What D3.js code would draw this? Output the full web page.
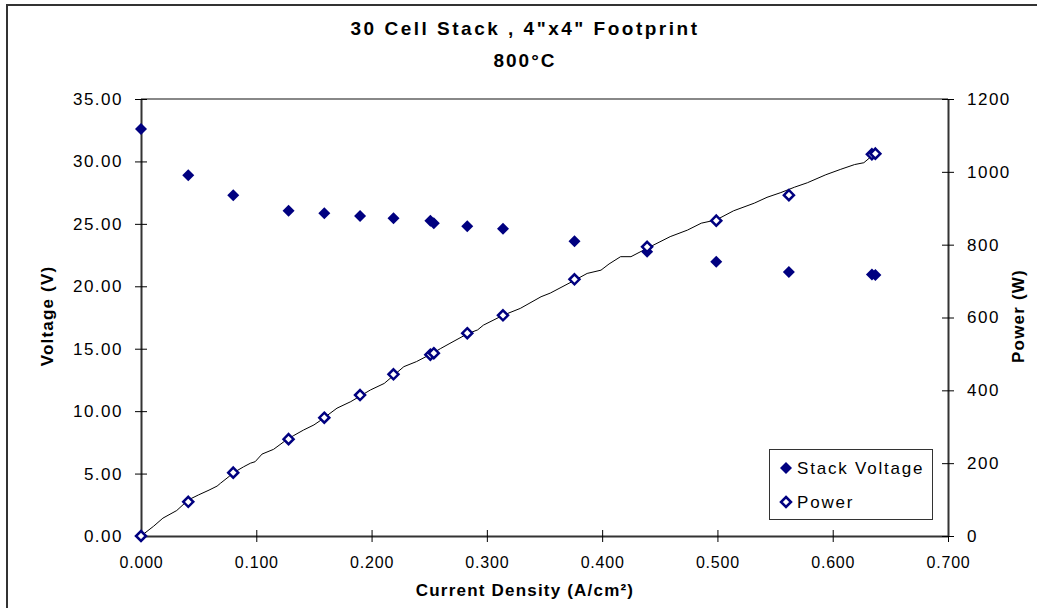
<!DOCTYPE html>
<html>
<head>
<meta charset="utf-8">
<script src="https://cdn.jsdelivr.net/npm/d3@7"></script>
<style>
  body { margin: 0; background: #fff; }
  svg text { font-family: "Liberation Sans", Arial, sans-serif; fill: #000; }
</style>
</head>
<body>
<div id="chart"></div>
<script>
// measured points (markers)
const currentDensity = [0, 0.041, 0.080, 0.128, 0.159, 0.190, 0.219, 0.251, 0.254, 0.283, 0.314, 0.376, 0.439, 0.499, 0.562, 0.634, 0.637];
const stackVoltage = [32.6, 28.9, 27.3, 26.05, 25.85, 25.63, 25.44, 25.25, 25.05, 24.8, 24.6, 23.6, 22.77, 21.97, 21.14, 20.95, 20.9];
const power = [0, 94, 174, 266, 325, 387, 444, 498, 502, 557, 606, 705, 794, 866, 936, 1048, 1050];

// continuous power trace (thin black line)
const traceCurrent = [0, 0.011, 0.019, 0.031, 0.041, 0.050, 0.059, 0.066, 0.069, 0.077, 0.082, 0.089, 0.095, 0.099, 0.105, 0.115, 0.124, 0.132, 0.141, 0.150, 0.156, 0.170, 0.182, 0.199, 0.211, 0.228, 0.239, 0.253, 0.260, 0.268, 0.283, 0.292, 0.297, 0.314, 0.329, 0.347, 0.355, 0.376, 0.387, 0.399, 0.406, 0.416, 0.425, 0.439, 0.459, 0.474, 0.486, 0.499, 0.514, 0.532, 0.543, 0.555, 0.567, 0.578, 0.594, 0.607, 0.619, 0.627, 0.636];
const tracePower = [0, 27, 49, 70, 99, 113, 126, 137, 145, 165, 177, 190, 200, 204, 225, 238, 259, 275, 291, 305, 318, 351, 369, 401, 419, 465, 479, 502, 515, 529, 555, 566, 579, 606, 625, 657, 667, 702, 721, 730, 747, 767, 767, 790, 822, 840, 859, 868, 893, 914, 930, 943, 958, 970, 992, 1007, 1020, 1025, 1049];

const xTicks = [0, 0.1, 0.2, 0.3, 0.4, 0.5, 0.6, 0.7];
const voltTicks = [0, 5, 10, 15, 20, 25, 30, 35];
const powerTicks = [0, 200, 400, 600, 800, 1000, 1200];

const width = 1037, height = 608;
const navy = "#000080";

const svg = d3.select("#chart").append("svg")
  .attr("width", width).attr("height", height);

// outer chart border
svg.append("rect")
  .attr("x", 7).attr("y", 5).attr("width", 1050).attr("height", 620)
  .attr("fill", "none").attr("stroke", "#333").attr("stroke-width", 2);

const x = d3.scaleLinear().domain([0, 0.7]).range([141, 948]);
const yV = d3.scaleLinear().domain([0, 35]).range([536, 99]);
const yP = d3.scaleLinear().domain([0, 1200]).range([536, 99]);

// plot area top border
svg.append("line")
  .attr("x1", x(0)).attr("x2", x(0.7)).attr("y1", yV(35)).attr("y2", yV(35))
  .attr("stroke", "#888").attr("stroke-width", 2);

// axes
const xAxis = svg.append("g").attr("transform", `translate(0,${yV(0)})`)
  .call(d3.axisBottom(x).tickValues(xTicks).tickFormat(d3.format(".3f")).tickSizeInner(6).tickSizeOuter(0).tickPadding(15));
const yAxisL = svg.append("g").attr("transform", `translate(${x(0)},0)`)
  .call(d3.axisLeft(yV).tickValues(voltTicks).tickFormat(d3.format(".2f")).tickSizeInner(6).tickSizeOuter(0).tickPadding(12));
const yAxisR = svg.append("g").attr("transform", `translate(${x(0.7)},0)`)
  .call(d3.axisRight(yP).tickValues(powerTicks).tickFormat(d3.format("d")).tickSizeInner(6).tickSizeOuter(0).tickPadding(13));

[xAxis, yAxisL, yAxisR].forEach(g => {
  g.select(".domain").attr("stroke", "#333").attr("stroke-width", 2);
  g.selectAll(".tick line").attr("stroke", "#000").attr("stroke-width", 1);
  g.selectAll(".tick text").attr("font-size", "17px").attr("letter-spacing", "1.5px")
    .attr("font-family", "Liberation Sans, Arial, sans-serif").attr("fill", "#000");
});
xAxis.selectAll(".tick text").attr("font-size", "16px").attr("letter-spacing", "0.8px");
// ticks cross the axis lines
xAxis.selectAll(".tick line").attr("y1", -6);
yAxisL.selectAll(".tick line").attr("x1", 6);
yAxisR.selectAll(".tick line").attr("x1", -6);

// power trace line
const line = d3.line().x(d => x(d[0])).y(d => yP(d[1]));
svg.append("path")
  .datum(d3.zip(traceCurrent, tracePower))
  .attr("d", line)
  .attr("fill", "none").attr("stroke", "#000").attr("stroke-width", 1);

const diamond = s => `M0,${-s}L${s},0L0,${s}L${-s},0Z`;

// voltage markers (filled)
svg.append("g").selectAll("path")
  .data(d3.zip(currentDensity, stackVoltage))
  .join("path")
  .attr("transform", d => `translate(${x(d[0])},${yV(d[1])})`)
  .attr("d", diamond(6))
  .attr("fill", navy);

// power markers (open)
svg.append("g").selectAll("path")
  .data(d3.zip(currentDensity, power))
  .join("path")
  .attr("transform", d => `translate(${x(d[0])},${yP(d[1])})`)
  .attr("d", diamond(5))
  .attr("fill", "#fff").attr("stroke", navy).attr("stroke-width", 2.5);

// titles
svg.append("text").attr("x", 525).attr("y", 35).attr("text-anchor", "middle")
  .attr("font-size", "19px").attr("font-weight", "bold").attr("letter-spacing", "2.5px")
  .text('30 Cell Stack , 4"x4" Footprint');
svg.append("text").attr("x", 525).attr("y", 67).attr("text-anchor", "middle")
  .attr("font-size", "19px").attr("font-weight", "bold").attr("letter-spacing", "2px")
  .text("800°C");

svg.append("text").attr("x", 525).attr("y", 596).attr("text-anchor", "middle")
  .attr("font-size", "17px").attr("font-weight", "bold").attr("letter-spacing", "1.2px")
  .text("Current Density (A/cm²)");

svg.append("text").attr("transform", "translate(53,316) rotate(-90)").attr("text-anchor", "middle")
  .attr("font-size", "17px").attr("font-weight", "bold").attr("letter-spacing", "1.2px")
  .text("Voltage (V)");

svg.append("text").attr("transform", "translate(1024,316) rotate(-90)").attr("text-anchor", "middle")
  .attr("font-size", "17px").attr("font-weight", "bold").attr("letter-spacing", "1.2px")
  .text("Power (W)");

// legend
const legend = svg.append("g");
legend.append("rect").attr("x", 769.5).attr("y", 449.5).attr("width", 163).attr("height", 70)
  .attr("fill", "#fff").attr("stroke", "#333").attr("stroke-width", 1);
legend.append("path").attr("transform", "translate(786,468)").attr("d", diamond(6)).attr("fill", navy);
legend.append("path").attr("transform", "translate(786,502)").attr("d", diamond(5))
  .attr("fill", "#fff").attr("stroke", navy).attr("stroke-width", 2.5);
legend.append("text").attr("x", 797).attr("y", 474).attr("font-size", "17px").attr("letter-spacing", "1.8px").text("Stack Voltage");
legend.append("text").attr("x", 797).attr("y", 508).attr("font-size", "17px").attr("letter-spacing", "1.8px").text("Power");
</script>
</body>
</html>
